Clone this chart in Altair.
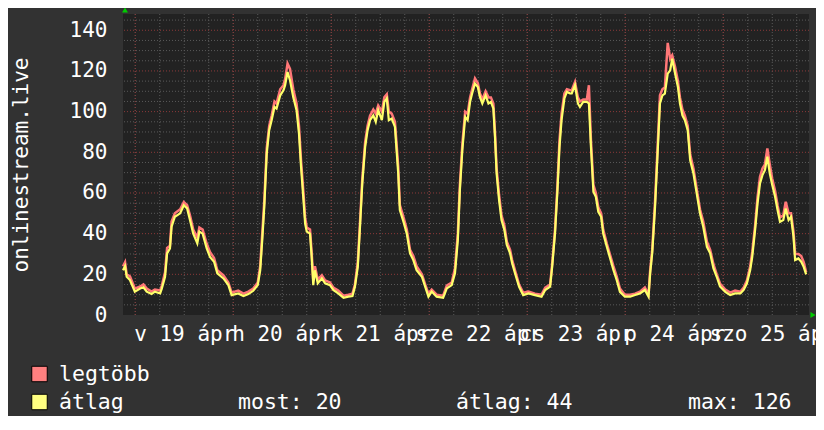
import altair as alt
import pandas as pd

# ---- data (hours since left edge of plot) ----
hours = [0.0, 0.5, 0.9, 1.7, 2.9, 4.2, 5.0, 5.8, 7.0, 7.8, 9.1, 9.5, 10.3, 10.8, 11.5, 11.9, 12.7, 14.0, 14.9, 15.7,
         16.4, 17.2, 18.2, 18.7, 19.5, 20.5, 21.3, 22.3, 23.1, 24.6, 25.8, 26.6, 28.2, 29.5, 30.7, 31.9, 33.0, 33.6,
         34.1, 34.6, 35.2, 35.8, 36.4, 37.1, 37.6, 38.5, 39.3, 39.7, 40.3, 40.9, 41.7, 42.5, 43.1, 43.6, 44.2, 44.6,
         45.0, 45.8, 46.2, 46.6, 47.0, 47.7, 48.7, 49.5, 50.7, 51.5, 52.7, 54.0, 55.2, 56.2, 56.8, 57.5, 58.0, 58.6,
         59.3, 59.9, 60.5, 61.3, 61.9, 62.5, 63.4, 64.0, 64.6, 65.1, 65.8, 66.6, 67.4, 67.8, 68.7, 69.5, 70.3, 71.1,
         71.9, 73.2, 74.0, 74.8, 75.6, 76.8, 78.4, 79.3, 80.5, 81.3, 82.0, 82.5, 83.1, 83.8, 84.4, 85.0, 85.5, 86.2,
         86.9, 87.4, 88.0, 88.8, 89.5, 90.1, 90.7, 91.1, 91.5, 92.1, 92.7, 93.4, 94.0, 94.8, 95.3, 96.0, 97.0, 98.0,
         99.3, 100.9, 102.5, 103.4, 104.6, 105.1, 105.8, 106.4, 106.9, 107.4, 108.1, 108.7, 109.5, 109.9, 110.7,
         111.4, 111.9, 112.7, 113.6, 114.1, 114.6, 115.2, 115.8, 116.4, 117.1, 117.6, 118.5, 119.3, 120.1, 120.9,
         121.7, 122.9, 124.2, 125.4, 126.6, 127.8, 128.7, 129.1, 129.6, 130.3, 131.0, 131.5, 132.1, 132.7, 133.4,
         134.0, 134.5, 135.2, 135.9, 136.4, 137.0, 137.6, 138.3, 138.9, 139.7, 140.5, 141.3, 142.1, 143.0, 143.8,
         144.6, 145.4, 146.2, 147.5, 148.7, 149.9, 151.2, 152.0, 152.8, 153.6, 154.1, 154.8, 155.4, 156.0, 156.6,
         157.2, 157.8, 158.4, 159.0, 159.7, 160.3, 160.9, 161.7, 162.3, 163.0, 163.6, 164.2, 164.6, 165.4, 166.1,
         166.7, 167.3]

atlag = [22, 24, 18.8, 17.2, 11.5, 13, 13.6, 11.5, 10.3, 11.5, 10.6, 13, 18.8, 30.3, 32.7, 43.4, 48.3, 50, 54, 52.4,
         46.7, 40, 35.2, 41, 40, 32.7, 28.6, 26.2, 20.5, 18, 14.7, 9.8, 10.6, 9.3, 10.3, 11.9, 14.7, 22,
         36.8, 53.2, 79.4, 90.9, 95.8, 102.3, 101.5, 108, 110.5, 113, 119.5, 115.4, 107, 100.7, 89.2, 72.9, 56.5, 45,
         41, 40, 28.6, 14.7, 22, 15.6, 18, 15.6, 14.7, 12.3, 10.6, 8.5, 9, 9.3, 13.9, 23.7, 41.8, 64.7,
         82.7, 90.9, 95.8, 98.2, 95, 100.7, 95.8, 104.8, 106.5, 95.8, 96.6, 92.5, 69.6, 51.6, 45.8, 40, 30.3, 27,
         22, 18.8, 13.9, 9, 11.5, 9, 8.5, 13.1, 14.7, 20.5, 36.8, 61.4, 81, 97.4, 95.8, 104.8, 108.9, 113.8,
         112.1, 107.2, 104, 108, 104, 104.8, 101.5, 87.6, 69.6, 56.5, 46.7, 41.8, 34.4, 30.3, 25.4, 20.5, 13.9, 9.8,
         10.6, 9.8, 9, 12.3, 13.9, 23.7, 40.1, 61.4, 82.7, 95.8, 106.5, 109.7, 108.9, 108.9, 113,
         104, 102.3, 104.8, 104.8, 104, 82.7, 60.6, 58.1, 50.7, 48.3, 40.1, 33.5, 27.8, 22.1, 17.2,
         11.4, 9, 9, 9.8, 10.6, 12.3, 9, 20.5, 30.3, 53.2, 82.7, 104, 108, 108.9, 118.7,
         120.3, 126, 118.7, 112.1, 104, 98.2, 95.8, 90.9, 76.1, 69.6, 59.8, 50, 43.4, 33.5, 30.3,
         22.9, 18.8, 14, 11.4, 9.8, 10.6, 10.6, 12.3, 15.6, 22.1, 28.6, 41.8, 54.9, 64.7, 68.8,
         71.2, 77.8, 69.6, 63.9, 58.1, 51.6, 45.8, 46.7, 52.4, 46.7, 48.3, 38.5, 27, 27.8, 26.2,
         23.7, 20]

legtobb = [24, 26, 20, 19, 13, 14, 15, 13, 11.5, 12.5, 12, 14.5, 21, 33, 34, 46, 50, 52, 55.5, 54,
           49, 42, 38, 43, 42, 35, 31, 28, 22, 19.5, 16, 11, 12, 10.5, 11.5, 13, 16, 24,
           40, 56, 82, 93, 98, 105, 104, 111, 113, 116, 123.6, 121, 111, 104, 93, 76, 60, 48,
           43, 42, 31, 17, 24, 17.5, 19.5, 17, 16, 13.5, 12, 9.5, 10, 10.5, 15, 26, 44, 67,
           85, 93, 98, 101, 99, 103, 100, 107, 108.5, 100, 99, 95, 73, 54, 48, 42, 32, 29,
           24, 20, 15, 10.5, 12.5, 10, 9.5, 14.5, 16, 23, 40, 64, 84, 100, 99, 107, 111, 116.3,
           114, 109, 106, 110, 107, 107, 104, 90, 72, 59, 49, 44, 36, 32, 27, 22, 15, 11,
           11.5, 10.5, 10, 13.5, 15, 25, 42, 64, 86, 99, 109, 111, 110.5, 110.5, 114.6,
           107, 105, 106, 106, 113, 86, 64, 60, 53, 50, 42, 35, 29.5, 24, 19,
           13, 10, 10, 10.5, 11.5, 13.5, 10, 22, 32, 56, 86, 108, 111, 112, 133.8,
           126, 127.7, 122, 115, 107, 101, 98, 93, 79, 72, 62, 52, 46, 36, 32,
           25, 20, 15.5, 12.5, 11, 12, 11.5, 13.5, 17, 24, 31, 44, 58, 68, 72,
           74, 81.9, 74, 67, 61, 54, 48, 49, 55.7, 50, 50, 41, 30, 30, 29,
           26, 21]

series_names = ["legtöbb", "átlag"]
series_colors = ["#ff7777", "#ffff6a"]
swatch_colors = ["#ff8080", "#ffff80"]

day_labels = ["v 19 ápr", "h 20 ápr", "k 21 ápr", "sze 22 ápr", "cs 23 ápr", "p 24 ápr", "szo 25 ápr"]
noon_hours = [15, 39, 63, 87, 111, 135, 159]
midnight_hours = [3, 27, 51, 75, 99, 123, 147]
six_hour_ticks = [3, 9, 15, 21, 27, 33, 39, 45, 51, 57, 63, 69, 75, 81, 87, 93, 99, 105, 111, 117, 123, 129,
                  135, 141, 147, 153, 159, 165]
y_tick_labels = [0, 20, 40, 60, 80, 100, 120, 140]
y_major = [20, 40, 60, 80, 100, 120, 140]
y_minor = [5, 10, 15, 25, 30, 35, 45, 50, 55, 65, 70, 75, 85, 90, 95, 105, 110, 115, 125, 130, 135, 145]

stat_names = ["most", "átlag", "max"]
stat_values = [20, 44, 126]

FONT = "DejaVu Sans Mono"
WHITE = "#ffffff"
MINOR = "#5a5a5a"
MAJOR = "#8c3a3a"

df = pd.DataFrame({"t": hours, "avg": atlag, "mx": legtobb})

xs = alt.Scale(domain=[0, 168], nice=False, zero=False)
ys = alt.Scale(domain=[0, 148], nice=False)

label_array = "[" + ",".join("'" + s + "'" for s in day_labels) + "]"
x_axis = alt.Axis(values=noon_hours, labelExpr=label_array + "[round((datum.value - 15) / 24)]",
                  grid=False, ticks=False, domain=False, labelFont=FONT, labelFontSize=21,
                  labelColor=WHITE, labelPadding=8, labelOverlap=False, labelFlush=False, title=None)
y_axis = alt.Axis(values=y_tick_labels, grid=False, ticks=False, domain=False, labelFont=FONT,
                  labelFontSize=21, labelColor=WHITE, labelPadding=16, labelOverlap=False,
                  title="onlinestream.live", titleFont=FONT, titleFontSize=21, titleFontWeight="normal",
                  titleColor=WHITE, titleAngle=270, titleX=-102, titleY=150.5, titleAlign="center",
                  titleBaseline="middle")

X = alt.X("t:Q", scale=xs, axis=x_axis)
Y = alt.Y("v:Q", scale=ys, axis=y_axis)

vminor = alt.Chart(pd.DataFrame({"t": six_hour_ticks})).mark_rule(
    color=MINOR, strokeDash=[1, 2], strokeWidth=1).encode(x=X)
hminor = alt.Chart(pd.DataFrame({"v": y_minor})).mark_rule(
    color=MINOR, strokeDash=[1, 2], strokeWidth=1).encode(y=Y)
vmajor = alt.Chart(pd.DataFrame({"t": midnight_hours})).mark_rule(
    color=MAJOR, strokeDash=[1, 2], strokeWidth=1).encode(x=X)
hmajor = alt.Chart(pd.DataFrame({"v": y_major})).mark_rule(
    color=MAJOR, strokeDash=[1, 2], strokeWidth=1).encode(y=Y)

line_max = alt.Chart(df).mark_line(color=series_colors[0], strokeWidth=2.5).encode(
    x=X, y=alt.Y("mx:Q", scale=ys, axis=y_axis))
line_avg = alt.Chart(df).mark_line(color=series_colors[1], strokeWidth=2.2).encode(
    x=X, y=alt.Y("avg:Q", scale=ys, axis=y_axis))

one = pd.DataFrame({"a": [0]})

# legend swatches and labels
legend_layers = []
for i, name in enumerate(series_names):
    cy = 360 + 28 * i
    legend_layers.append(alt.Chart(one).mark_square(
        size=240, filled=True, color=swatch_colors[i], stroke="black", strokeWidth=1, opacity=1
    ).encode(x=alt.value(-83.5), y=alt.value(cy)))
    legend_layers.append(alt.Chart(one).mark_text(
        text=name, font=FONT, fontSize=21.5, color=WHITE, align="left", baseline="alphabetic"
    ).encode(x=alt.value(-64), y=alt.value(367 + 28 * i)))

stat_x = [115, 333, 565]
stat_layers = []
for i, n in enumerate(stat_names):
    stat_layers.append(alt.Chart(one).mark_text(
        text=f"{n}: {stat_values[i]}", font=FONT, fontSize=21.5, color=WHITE, align="left",
        baseline="alphabetic"
    ).encode(x=alt.value(stat_x[i]), y=alt.value(395)))

arrow_up = alt.Chart(one).mark_point(shape="triangle-up", filled=True, color="#00cc00", size=35,
                                     opacity=1).encode(x=alt.value(2), y=alt.value(-4))
arrow_right = alt.Chart(one).mark_point(shape="triangle-right", filled=True, color="#00cc00", size=35,
                                        opacity=1).encode(x=alt.value(690), y=alt.value(301))

chart = alt.layer(
    vminor, hminor, vmajor, hmajor, line_max, line_avg, arrow_up, arrow_right,
    *legend_layers, *stat_layers
).properties(
    width=686, height=301,
    autosize=alt.AutoSizeParams(type="none"),
    padding={"left": 115, "top": 6, "right": 7, "bottom": 101},
    background="#323232"
).configure_view(
    fill="#222222", stroke=None
)

chart.save("out.html", embed_options={"renderer": "svg", "actions": False})
